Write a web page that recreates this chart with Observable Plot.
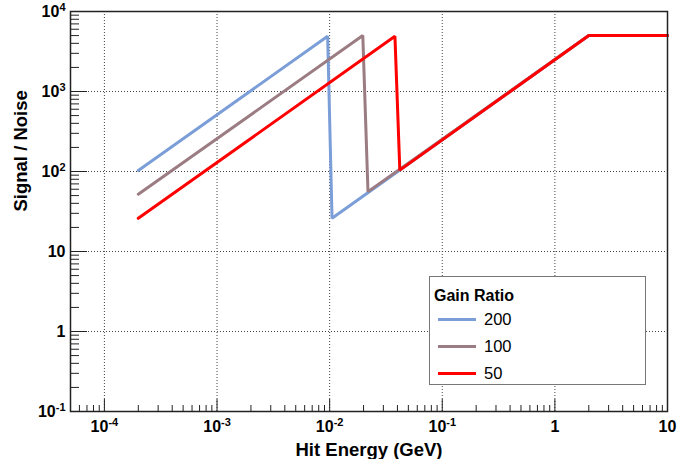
<!DOCTYPE html>
<html>
<head>
<meta charset="utf-8">
<script src="https://cdn.jsdelivr.net/npm/d3@7"></script>
<script src="https://cdn.jsdelivr.net/npm/@observablehq/plot@0.6"></script>
<style>
  html, body { margin: 0; padding: 0; background: #fff; }
  #wrap { position: relative; width: 679px; height: 459px; font-family: "Liberation Sans", Arial, sans-serif; }
  #legend { position: absolute; left: 429px; top: 276px; width: 215px; height: 107px; border: 1.5px solid #777; background: #fff; box-sizing: content-box; }
  #legend .title { position: absolute; left: 4px; top: 10px; font-weight: bold; font-size: 16px; color: #000; }
  #legend .item { position: absolute; left: 8px; height: 20px; display: flex; align-items: center; font-size: 16.5px; color: #000; }
  #legend .sw { width: 38px; height: 3px; margin-right: 8px; }
</style>
</head>
<body>
<div id="wrap"></div>
<script>
// Series names and colours
const seriesNames = ["200", "100", "50"];
const seriesColors = ["#7b9ed8", "#9b7c82", "#ff0000"];

// Hit energy (GeV) and Signal/Noise values
const energy200 = [2e-4, 0.0096, 0.0105, 2, 10];
const snr200    = [103, 4900, 26, 5000, 5000];
const energy100 = [2e-4, 0.0197, 0.0219, 2, 10];
const snr100    = [52, 5000, 56, 5000, 5000];
const energy50  = [2e-4, 0.038, 0.042, 2, 10];
const snr50     = [26, 4900, 104, 5000, 5000];

// Axis ticks
const xMajor = [1e-4, 1e-3, 1e-2, 1e-1, 1, 10];
const xMajorLabels = ["10^-4", "10^-3", "10^-2", "10^-1", "1", "10"];
const yMajor = [0.1, 1, 10, 100, 1000, 10000];
const yMajorLabels = ["10^-1", "1", "10", "10^2", "10^3", "10^4"];
const xMinor = [5e-5, 6e-5, 7e-5, 8e-5, 9e-5,
  2e-4, 3e-4, 4e-4, 5e-4, 6e-4, 7e-4, 8e-4, 9e-4,
  2e-3, 3e-3, 4e-3, 5e-3, 6e-3, 7e-3, 8e-3, 9e-3,
  2e-2, 3e-2, 4e-2, 5e-2, 6e-2, 7e-2, 8e-2, 9e-2,
  0.2, 0.3, 0.4, 0.5, 0.6, 0.7, 0.8, 0.9,
  2, 3, 4, 5, 6, 7, 8, 9];
const yMinor = [0.2, 0.3, 0.4, 0.5, 0.6, 0.7, 0.8, 0.9,
  2, 3, 4, 5, 6, 7, 8, 9,
  20, 30, 40, 50, 60, 70, 80, 90,
  200, 300, 400, 500, 600, 700, 800, 900,
  2000, 3000, 4000, 5000, 6000, 7000, 8000, 9000];

const table = [];
[[energy200, snr200], [energy100, snr100], [energy50, snr50]].forEach(([xs, ys], i) => {
  xs.forEach((x, j) => table.push({series: seriesNames[i], energy: x, snr: ys[j]}));
});

const W = 679, H = 459, mL = 70, mR = 12, mT = 11, mB = 48;
const fw = W - mL - mR, fh = H - mT - mB;

const xFmt = d => xMajorLabels[xMajor.indexOf(d)] ?? "";
const yFmt = d => yMajorLabels[yMajor.indexOf(d)] ?? "";

const chart = Plot.plot({
  width: W, height: H,
  marginLeft: mL, marginRight: mR, marginTop: mT, marginBottom: mB,
  style: {fontFamily: "'Liberation Sans', Arial, sans-serif", fontSize: "16px", fontWeight: "bold", color: "#000", background: "#fff"},
  x: {type: "log", domain: [5e-5, 10], ticks: xMajor, tickFormat: xFmt, tickSize: 0, tickPadding: 9, label: null},
  y: {type: "log", domain: [0.1, 10000], ticks: yMajor, tickFormat: yFmt, tickSize: 0, tickPadding: 5, label: null},
  color: {domain: seriesNames, range: seriesColors},
  marks: [
    Plot.gridX(xMajor.slice(0, 5), {stroke: "#444", strokeOpacity: 1, strokeDasharray: "1,2"}),
    Plot.gridY(yMajor.slice(1, 5), {stroke: "#444", strokeOpacity: 1, strokeDasharray: "1,2"}),
    Plot.tickX(xMinor, {x: d => d, stroke: "#222", insetTop: fh - 6}),
    Plot.tickX(xMajor, {x: d => d, stroke: "#222", insetTop: fh - 12}),
    Plot.tickY(yMinor, {y: d => d, stroke: "#222", insetRight: fw - 9}),
    Plot.tickY(yMajor, {y: d => d, stroke: "#222", insetRight: fw - 17}),
    Plot.line(table, {x: "energy", y: "snr", z: "series", stroke: "series", strokeWidth: 3, strokeLinejoin: "miter"}),
    Plot.frame({stroke: "#222", strokeWidth: 1.5}),
    Plot.text(["Hit Energy (GeV)"], {frameAnchor: "bottom", dy: 44, fontSize: 18.5, fontWeight: "bold", fill: "#000"}),
    Plot.text(["Signal / Noise"], {frameAnchor: "left", dx: -49, rotate: -90, fontSize: 18.5, fontWeight: "bold", fill: "#000"})
  ]
});

// Superscripts for exponent labels
d3.select(chart).selectAll("text").each(function() {
  const t = this.textContent;
  const m = /^10\^(-?\d+)$/.exec(t);
  if (m && this.children.length === 0) {
    const sel = d3.select(this);
    sel.text("10");
    sel.append("tspan").attr("dy", "-0.5em").attr("font-size", "11px").text(m[1]);
  }
});

const wrap = document.getElementById("wrap");
wrap.appendChild(chart);

// Legend
const legend = document.createElement("div");
legend.id = "legend";
const title = document.createElement("div");
title.className = "title";
title.textContent = "Gain Ratio";
legend.appendChild(title);
seriesNames.forEach((name, i) => {
  const item = document.createElement("div");
  item.className = "item";
  item.style.top = (32 + i * 27) + "px";
  const sw = document.createElement("span");
  sw.className = "sw";
  sw.style.background = seriesColors[i];
  const lb = document.createElement("span");
  lb.textContent = name;
  item.appendChild(sw);
  item.appendChild(lb);
  legend.appendChild(item);
});
wrap.appendChild(legend);
</script>
</body>
</html>
